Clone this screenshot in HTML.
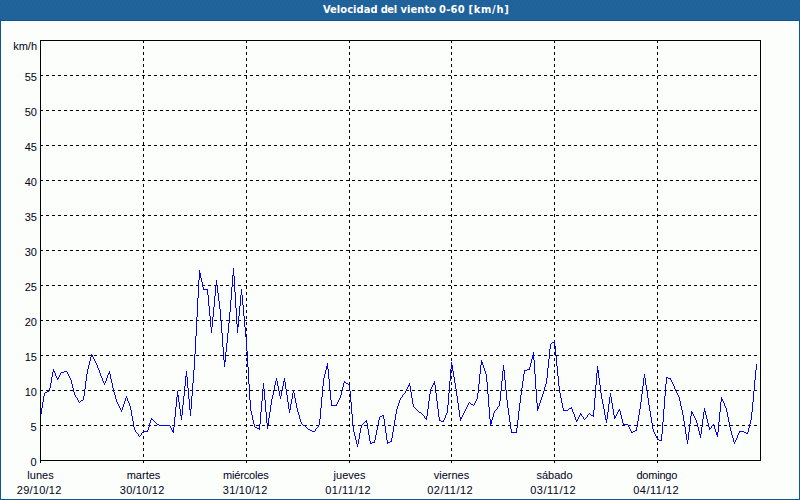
<!DOCTYPE html>
<html lang="es"><head><meta charset="utf-8"><title>Velocidad del viento 0-60 [km/h]</title>
<style>
html,body{margin:0;padding:0;background:#1e6298;}
body{width:800px;height:500px;overflow:hidden;position:relative;font-family:"Liberation Sans", sans-serif;}
#frame{position:absolute;left:0;top:0;width:800px;height:500px;background:#1e6298;}
#title{position:absolute;left:323px;top:0;width:300px;height:20px;line-height:19px;text-align:left;color:#fff;font-family:"DejaVu Sans Condensed","Liberation Sans",sans-serif;font-weight:bold;font-size:11px;white-space:nowrap;}
#title span{position:absolute;top:0;}
svg{position:absolute;left:0;top:0;}
svg text{font-family:"Liberation Sans", sans-serif;font-size:11px;fill:#000022;}
</style></head><body>
<div id="frame">
<svg width="800" height="500" viewBox="0 0 800 500">
<defs><pattern id="dither" x="0" y="0" width="4" height="10" patternUnits="userSpaceOnUse">
<rect width="4" height="10" fill="#1e6298"/>
<rect x="0" y="1" width="1" height="1" fill="#2564b2"/><rect x="3" y="3" width="1" height="1" fill="#2564b2"/>
<rect x="1" y="5" width="1" height="1" fill="#2564b2"/><rect x="0" y="7" width="1" height="1" fill="#2564b2"/>
<rect x="2" y="9" width="1" height="1" fill="#2564b2"/></pattern></defs>
<g shape-rendering="crispEdges">
<rect x="0" y="0" width="800" height="20" fill="url(#dither)"/>
<rect x="0" y="20" width="800" height="480" fill="#0a568e"/>
<rect x="1" y="21" width="798" height="478" fill="#ffffff"/>
<rect x="2" y="22" width="796" height="476" fill="#fcfefc"/>
</g>
<g shape-rendering="crispEdges" fill="none" stroke="#000" stroke-width="1">

<line x1="40" y1="425.5" x2="757" y2="425.5" stroke-dasharray="3 3"/>
<line x1="40" y1="390.5" x2="757" y2="390.5" stroke-dasharray="3 3"/>
<line x1="40" y1="355.5" x2="757" y2="355.5" stroke-dasharray="3 3"/>
<line x1="40" y1="320.5" x2="757" y2="320.5" stroke-dasharray="3 3"/>
<line x1="40" y1="285.5" x2="757" y2="285.5" stroke-dasharray="3 3"/>
<line x1="40" y1="250.5" x2="757" y2="250.5" stroke-dasharray="3 3"/>
<line x1="40" y1="215.5" x2="757" y2="215.5" stroke-dasharray="3 3"/>
<line x1="40" y1="180.5" x2="757" y2="180.5" stroke-dasharray="3 3"/>
<line x1="40" y1="145.5" x2="757" y2="145.5" stroke-dasharray="3 3"/>
<line x1="40" y1="110.5" x2="757" y2="110.5" stroke-dasharray="3 3"/>
<line x1="40" y1="75.5" x2="757" y2="75.5" stroke-dasharray="3 3"/>
<line x1="143.5" y1="40" x2="143.5" y2="463" stroke-dasharray="3 3"/>
<line x1="246.5" y1="40" x2="246.5" y2="463" stroke-dasharray="3 3"/>
<line x1="349.5" y1="40" x2="349.5" y2="463" stroke-dasharray="3 3"/>
<line x1="451.5" y1="40" x2="451.5" y2="463" stroke-dasharray="3 3"/>
<line x1="554.5" y1="40" x2="554.5" y2="463" stroke-dasharray="3 3"/>
<line x1="657.5" y1="40" x2="657.5" y2="463" stroke-dasharray="3 3"/>
<path stroke="#0000ff" d="M40.5 414V417M41.5 408V414M42.5 402V408M43.5 396V402M44.5 393V396M45.5 392V393M46.5 392V393M47.5 391V392M48.5 391V392M49.5 388V391M50.5 383V388M51.5 377V383M52.5 372V377M53.5 369V372M54.5 371V373M55.5 373V376M56.5 376V378M57.5 378V380M58.5 377V379M59.5 375V377M60.5 373V375M61.5 372V373M62.5 372V373M63.5 372V373M64.5 371V372M65.5 371V372M66.5 371V372M67.5 372V374M68.5 374V376M69.5 376V378M70.5 378V380M71.5 380V384M72.5 384V388M73.5 388V392M74.5 392V395M75.5 395V397M76.5 397V398M77.5 398V400M78.5 400V402M79.5 402V403M80.5 401V402M81.5 400V401M82.5 400V401M83.5 396V400M84.5 389V396M85.5 381V389M86.5 374V381M87.5 369V374M88.5 365V369M89.5 361V365M90.5 357V361M91.5 354V357M92.5 355V357M93.5 357V359M94.5 359V361M95.5 361V363M96.5 363V365M97.5 365V368M98.5 368V370M99.5 370V373M100.5 373V376M101.5 376V378M102.5 378V381M103.5 381V383M104.5 383V385M105.5 381V383M106.5 378V381M107.5 375V378M108.5 373V375M109.5 371V374M110.5 374V379M111.5 379V383M112.5 383V388M113.5 388V392M114.5 392V395M115.5 395V399M116.5 399V402M117.5 402V404M118.5 404V406M119.5 406V408M120.5 408V410M121.5 410V412M122.5 407V410M123.5 404V407M124.5 401V404M125.5 398V401M126.5 396V398M127.5 398V401M128.5 401V403M129.5 403V406M130.5 406V410M131.5 410V416M132.5 416V421M133.5 421V427M134.5 427V430M135.5 430V432M136.5 432V433M137.5 433V434M138.5 434V436M139.5 436V437M140.5 435V436M141.5 433V435M142.5 432V433M143.5 431V432M144.5 431V432M145.5 431V432M146.5 431V432M147.5 430V432M148.5 427V430M149.5 423V427M150.5 420V423M151.5 418V420M152.5 419V420M153.5 420V421M154.5 421V422M155.5 422V423M156.5 423V424M157.5 424V425M158.5 424V425M159.5 425V426M160.5 425V426M161.5 425V426M162.5 425V426M163.5 425V426M164.5 425V426M165.5 425V426M166.5 425V426M167.5 425V426M168.5 425V426M169.5 425V426M170.5 426V428M171.5 428V430M172.5 430V432M173.5 427V433M174.5 417V427M175.5 407V417M176.5 397V407M177.5 391V397M178.5 395V402M179.5 402V409M180.5 409V416M181.5 415V420M182.5 405V415M183.5 396V405M184.5 386V396M185.5 376V386M186.5 371V377M187.5 377V388M188.5 388V399M189.5 399V410M190.5 409V416M191.5 396V409M192.5 383V396M193.5 370V383M194.5 354V370M195.5 336V354M196.5 317V336M197.5 298V317M198.5 280V298M199.5 270V280M200.5 273V278M201.5 278V282M202.5 282V287M203.5 287V290M204.5 289V290M205.5 289V290M206.5 289V290M207.5 289V295M208.5 295V306M209.5 306V316M210.5 316V327M211.5 327V333M212.5 317V327M213.5 307V317M214.5 296V307M215.5 286V296M216.5 280V286M217.5 285V293M218.5 293V301M219.5 301V309M220.5 309V320M221.5 320V333M222.5 333V347M223.5 347V360M224.5 360V367M225.5 352V362M226.5 343V352M227.5 333V343M228.5 323V333M229.5 312V323M230.5 300V312M231.5 287V300M232.5 275V287M233.5 268V276M234.5 276V292M235.5 292V308M236.5 308V324M237.5 324V333M238.5 316V327M239.5 306V316M240.5 295V306M241.5 289V295M242.5 295V305M243.5 305V316M244.5 316V327M245.5 327V337M246.5 337V351M247.5 351V367M248.5 367V384M249.5 384V400M250.5 400V411M251.5 411V415M252.5 415V420M253.5 420V424M254.5 424V427M255.5 427V428M256.5 427V428M257.5 428V429M258.5 428V429M259.5 424V430M260.5 412V424M261.5 401V412M262.5 389V401M263.5 383V389M264.5 389V400M265.5 400V412M266.5 412V423M267.5 423V429M268.5 418V425M269.5 412V418M270.5 405V412M271.5 399V405M272.5 395V399M273.5 390V395M274.5 385V390M275.5 381V385M276.5 378V381M277.5 381V386M278.5 386V391M279.5 391V396M280.5 396V399M281.5 391V396M282.5 386V391M283.5 381V386M284.5 378V382M285.5 382V389M286.5 389V395M287.5 395V402M288.5 402V409M289.5 409V413M290.5 404V410M291.5 399V404M292.5 393V399M293.5 390V393M294.5 393V398M295.5 398V403M296.5 403V408M297.5 408V412M298.5 412V415M299.5 415V419M300.5 419V422M301.5 422V424M302.5 424V425M303.5 425V426M304.5 425V426M305.5 426V427M306.5 427V428M307.5 428V429M308.5 429V430M309.5 429V430M310.5 430V431M311.5 430V431M312.5 431V432M313.5 431V432M314.5 431V432M315.5 429V431M316.5 428V429M317.5 427V428M318.5 425V427M319.5 419V425M320.5 408V419M321.5 397V408M322.5 386V397M323.5 378V386M324.5 374V378M325.5 370V374M326.5 366V370M327.5 363V369M328.5 369V379M329.5 379V390M330.5 390V400M331.5 400V406M332.5 405V406M333.5 405V406M334.5 405V406M335.5 405V406M336.5 404V406M337.5 402V404M338.5 400V402M339.5 398V400M340.5 395V398M341.5 391V395M342.5 387V391M343.5 383V387M344.5 381V383M345.5 382V383M346.5 383V384M347.5 383V384M348.5 384V385M349.5 385V391M350.5 391V402M351.5 402V414M352.5 414V425M353.5 425V432M354.5 432V436M355.5 436V440M356.5 440V444M357.5 444V447M358.5 439V444M359.5 433V439M360.5 428V433M361.5 425V428M362.5 424V425M363.5 423V424M364.5 422V423M365.5 421V422M366.5 420V423M367.5 423V429M368.5 429V435M369.5 435V441M370.5 441V444M371.5 443V444M372.5 442V443M373.5 442V443M374.5 440V443M375.5 435V440M376.5 430V435M377.5 425V430M378.5 420V425M379.5 417V420M380.5 416V417M381.5 416V417M382.5 415V416M383.5 415V419M384.5 419V426M385.5 426V433M386.5 433V440M387.5 440V444M388.5 442V443M389.5 442V443M390.5 441V442M391.5 438V442M392.5 432V438M393.5 426V432M394.5 420V426M395.5 414V420M396.5 409V414M397.5 406V409M398.5 403V406M399.5 400V403M400.5 398V400M401.5 397V398M402.5 395V397M403.5 394V395M404.5 393V394M405.5 391V393M406.5 389V391M407.5 387V389M408.5 385V387M409.5 383V386M410.5 386V392M411.5 392V398M412.5 398V404M413.5 404V407M414.5 407V408M415.5 408V409M416.5 409V410M417.5 410V411M418.5 411V412M419.5 412V413M420.5 412V413M421.5 413V414M422.5 414V415M423.5 415V416M424.5 416V418M425.5 418V419M426.5 416V420M427.5 409V416M428.5 401V409M429.5 394V401M430.5 389V394M431.5 387V389M432.5 385V387M433.5 383V385M434.5 381V385M435.5 385V393M436.5 393V401M437.5 401V409M438.5 409V417M439.5 417V421M440.5 420V421M441.5 421V422M442.5 421V422M443.5 420V422M444.5 418V420M445.5 415V418M446.5 413V415M447.5 405V413M448.5 393V405M449.5 381V393M450.5 369V381M451.5 362V369M452.5 365V371M453.5 371V377M454.5 377V383M455.5 383V389M456.5 389V396M457.5 396V403M458.5 403V410M459.5 410V417M460.5 417V421M461.5 417V419M462.5 415V417M463.5 413V415M464.5 411V413M465.5 409V411M466.5 407V409M467.5 405V407M468.5 403V405M469.5 402V403M470.5 403V404M471.5 404V405M472.5 404V405M473.5 405V406M474.5 403V405M475.5 401V403M476.5 399V401M477.5 393V399M478.5 384V393M479.5 374V384M480.5 365V374M481.5 360V365M482.5 362V365M483.5 365V368M484.5 368V371M485.5 371V374M486.5 374V382M487.5 382V394M488.5 394V407M489.5 407V419M490.5 419V426M491.5 420V424M492.5 417V420M493.5 413V417M494.5 411V413M495.5 410V411M496.5 409V410M497.5 407V409M498.5 406V407M499.5 401V406M500.5 391V401M501.5 381V391M502.5 371V381M503.5 365V371M504.5 370V380M505.5 380V390M506.5 390V400M507.5 400V408M508.5 408V415M509.5 415V422M510.5 422V429M511.5 429V433M512.5 432V433M513.5 432V433M514.5 432V433M515.5 432V433M516.5 428V433M517.5 420V428M518.5 411V420M519.5 403V411M520.5 395V403M521.5 388V395M522.5 381V388M523.5 374V381M524.5 370V374M525.5 370V371M526.5 370V371M527.5 369V370M528.5 369V370M529.5 367V370M530.5 363V367M531.5 359V363M532.5 355V359M533.5 352V360M534.5 360V374M535.5 374V389M536.5 389V403M537.5 403V411M538.5 406V409M539.5 403V406M540.5 400V403M541.5 397V400M542.5 394V397M543.5 391V394M544.5 387V391M545.5 384V387M546.5 378V384M547.5 368V378M548.5 359V368M549.5 349V359M550.5 344V349M551.5 343V344M552.5 342V343M553.5 342V343M554.5 341V346M555.5 346V356M556.5 356V366M557.5 366V376M558.5 376V386M559.5 386V393M560.5 393V398M561.5 398V403M562.5 403V408M563.5 408V411M564.5 410V411M565.5 410V411M566.5 410V411M567.5 410V411M568.5 409V410M569.5 408V409M570.5 408V409M571.5 407V409M572.5 409V412M573.5 412V414M574.5 414V417M575.5 417V420M576.5 420V422M577.5 419V421M578.5 417V419M579.5 415V417M580.5 413V415M581.5 414V416M582.5 416V417M583.5 417V419M584.5 419V420M585.5 418V419M586.5 417V418M587.5 415V417M588.5 414V415M589.5 413V414M590.5 414V415M591.5 415V416M592.5 415V416M593.5 410V417M594.5 398V410M595.5 385V398M596.5 373V385M597.5 366V373M598.5 370V378M599.5 378V385M600.5 385V393M601.5 393V399M602.5 399V404M603.5 404V409M604.5 409V415M605.5 415V420M606.5 419V423M607.5 412V419M608.5 404V412M609.5 397V404M610.5 393V397M611.5 397V403M612.5 403V409M613.5 409V415M614.5 415V419M615.5 416V418M616.5 414V416M617.5 412V414M618.5 410V412M619.5 409V411M620.5 411V415M621.5 415V419M622.5 419V423M623.5 423V425M624.5 424V425M625.5 424V425M626.5 424V425M627.5 424V425M628.5 425V427M629.5 427V429M630.5 429V431M631.5 431V433M632.5 432V433M633.5 431V432M634.5 431V432M635.5 430V431M636.5 427V431M637.5 421V427M638.5 415V421M639.5 409V415M640.5 402V409M641.5 394V402M642.5 386V394M643.5 378V386M644.5 374V378M645.5 378V385M646.5 385V391M647.5 391V398M648.5 398V405M649.5 405V411M650.5 411V417M651.5 417V423M652.5 423V429M653.5 429V432M654.5 432V434M655.5 434V436M656.5 436V438M657.5 438V440M658.5 439V440M659.5 440V441M660.5 440V441M661.5 434V441M662.5 422V434M663.5 409V422M664.5 396V409M665.5 384V396M666.5 377V384M667.5 377V378M668.5 378V379M669.5 378V379M670.5 378V380M671.5 380V382M672.5 382V384M673.5 384V386M674.5 386V389M675.5 389V391M676.5 391V393M677.5 393V395M678.5 395V397M679.5 397V401M680.5 401V406M681.5 406V410M682.5 410V415M683.5 415V421M684.5 421V427M685.5 427V434M686.5 434V440M687.5 440V444M688.5 432V440M689.5 424V432M690.5 416V424M691.5 411V416M692.5 412V414M693.5 414V416M694.5 416V418M695.5 418V420M696.5 420V423M697.5 423V427M698.5 427V431M699.5 431V435M700.5 434V438M701.5 427V434M702.5 419V427M703.5 412V419M704.5 408V412M705.5 411V415M706.5 415V419M707.5 419V423M708.5 423V427M709.5 427V430M710.5 428V429M711.5 426V428M712.5 425V426M713.5 424V426M714.5 426V429M715.5 429V432M716.5 432V435M717.5 432V437M718.5 422V432M719.5 412V422M720.5 402V412M721.5 397V402M722.5 399V401M723.5 401V403M724.5 403V406M725.5 406V408M726.5 408V412M727.5 412V417M728.5 417V422M729.5 422V427M730.5 427V431M731.5 431V435M732.5 435V438M733.5 438V442M734.5 442V444M735.5 440V442M736.5 438V440M737.5 435V438M738.5 433V435M739.5 431V433M740.5 431V432M741.5 431V432M742.5 431V432M743.5 431V432M744.5 432V433M745.5 432V433M746.5 433V434M747.5 432V434M748.5 428V432M749.5 424V428M750.5 420V424M751.5 412V420M752.5 402V412M753.5 391V402M754.5 380V391M755.5 370V380M756.5 364V370"/>
<rect x="40.5" y="40.5" width="720" height="420"/>
<line x1="40.5" y1="460" x2="40.5" y2="463"/>
</g>
<g text-anchor="end">
<text x="37" y="50">km/h</text>
<text x="36.5" y="466">0</text>
<text x="36.5" y="431">5</text>
<text x="37" y="396">10</text>
<text x="37" y="361">15</text>
<text x="37" y="326">20</text>
<text x="37" y="291">25</text>
<text x="37" y="256">30</text>
<text x="37" y="221">35</text>
<text x="37" y="186">40</text>
<text x="37" y="151">45</text>
<text x="37" y="116">50</text>
<text x="37" y="81">55</text>
</g>
<g text-anchor="middle">
<text x="40.5" y="479" letter-spacing="0">lunes</text>
<text x="39.2" y="494" letter-spacing="0.25">29/10/12</text>
<text x="143.5" y="479" letter-spacing="0">martes</text>
<text x="142.2" y="494" letter-spacing="0.25">30/10/12</text>
<text x="245.8" y="479" letter-spacing="-0.15">miércoles</text>
<text x="245.2" y="494" letter-spacing="0.25">31/10/12</text>
<text x="349.5" y="479" letter-spacing="0">jueves</text>
<text x="348.2" y="494" letter-spacing="0.5">01/11/12</text>
<text x="451.5" y="479" letter-spacing="0">viernes</text>
<text x="450.2" y="494" letter-spacing="0.5">02/11/12</text>
<text x="554.5" y="479" letter-spacing="0">sábado</text>
<text x="553.2" y="494" letter-spacing="0.5">03/11/12</text>
<text x="656.8" y="479" letter-spacing="-0.2">domingo</text>
<text x="656.2" y="494" letter-spacing="0.5">04/11/12</text>
</g>
</svg>
<div id="title"><span style="left:0px;letter-spacing:0.05px">Velocidad</span> <span style="left:57.7px;letter-spacing:-0.4px">del</span> <span style="left:77.5px;letter-spacing:0.07px">viento</span> <span style="left:116px;letter-spacing:0.3px">0-60</span> <span style="left:145.6px;letter-spacing:0.7px">[km/h]</span></div>
</div>
</body></html>
